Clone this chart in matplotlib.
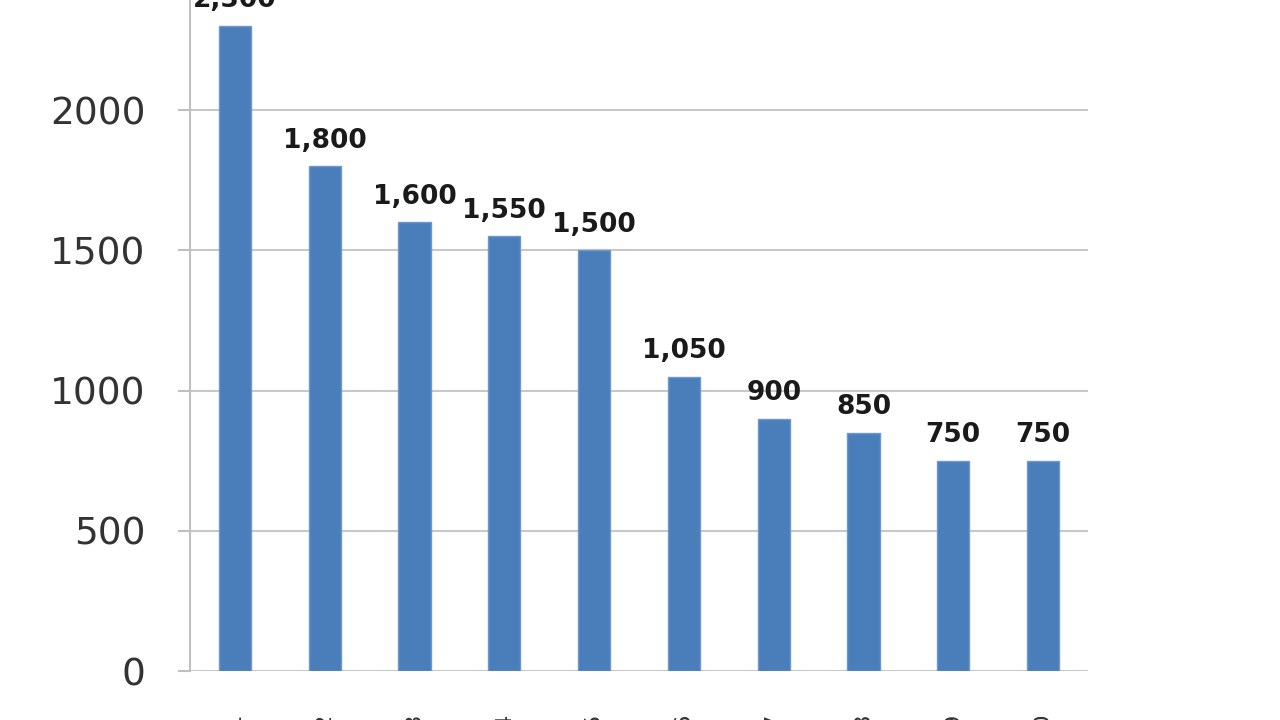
import matplotlib.pyplot as plt

categories = ['c1', 'c2', 'c3', 'c4', 'c5', 'c6', 'c7', 'c8', 'c9', 'c10']
values = [2300, 1800, 1600, 1550, 1500, 1050, 900, 850, 750, 750]
yticks = [0, 500, 1000, 1500, 2000]

fig = plt.figure(figsize=(12.8, 7.2), dpi=100)
ax = fig.add_axes([190/1280, 49/720, 898/1280, 673/720])

bars = ax.bar(range(len(values)), values, width=0.36, color='#4a7ebb',
              edgecolor='#6f98cc', linewidth=1, zorder=3)
for i, v in enumerate(values):
    ax.text(i, v + 45, f'{v:,}', ha='center', va='bottom', fontsize=19,
            fontweight='bold', color='#1a1a1a')

ax.set_xlim(-0.5, len(values) - 0.5)
ax.set_ylim(0, 2400)
ax.set_yticks(yticks)
ax.set_yticklabels([str(t) for t in yticks], fontsize=27, color='#333333')
ax.tick_params(axis='y', length=9, width=1.5, color='#bfbfbf', pad=23)
ax.set_xticks(range(len(values)))
ax.set_xticklabels(categories, fontsize=16, rotation=90, color='#333333')
ax.tick_params(axis='x', length=0, pad=30)

ax.grid(axis='y', color='#c8c8c8', linewidth=1.5, zorder=0)
for s in ['top', 'right', 'bottom']:
    ax.spines[s].set_visible(False)
ax.spines['left'].set_color('#bfbfbf')
ax.spines['left'].set_linewidth(1.5)

fig.savefig('out.png', dpi=100)
